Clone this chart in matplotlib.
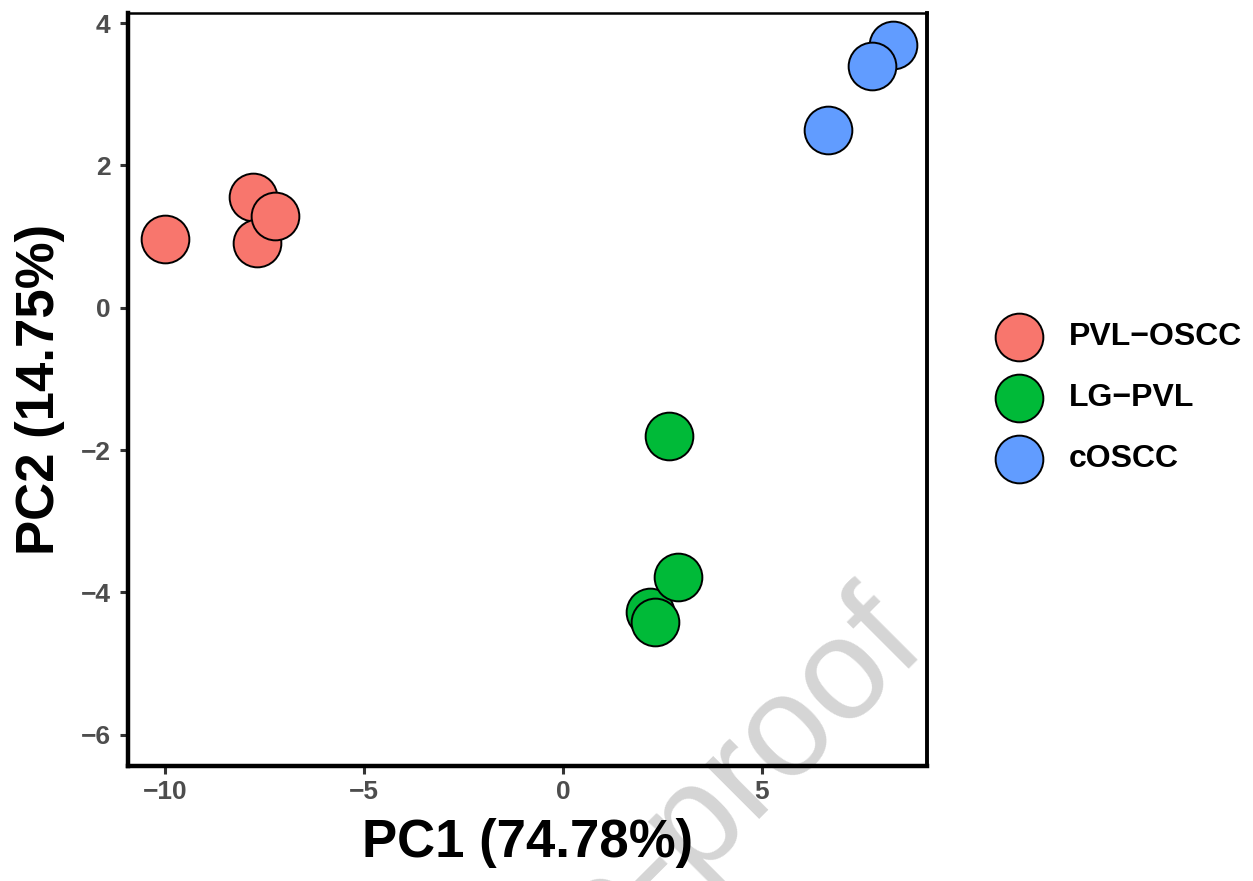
import matplotlib
matplotlib.use("Agg")
import matplotlib.pyplot as plt

# PCA scores
groups = ["PVL\u2212OSCC", "LG\u2212PVL", "cOSCC"]
colors = ["#F8766D", "#00BA38", "#619CFF"]

pvl_oscc_x = [-10.0, -7.79, -7.69, -7.24]
pvl_oscc_y = [0.97, 1.56, 0.91, 1.29]
lg_pvl_x = [2.66, 2.19, 2.31, 2.89]
lg_pvl_y = [-1.80, -4.27, -4.42, -3.79]
coscc_x = [6.66, 8.29, 7.76]
coscc_y = [2.50, 3.69, 3.40]

xticks = [-10, -5, 0, 5]
yticks = [-6, -4, -2, 0, 2, 4]

plt.rcParams['font.family'] = ['Liberation Sans', 'DejaVu Sans']

fig = plt.figure(figsize=(12.53, 8.81), dpi=100)
ax = fig.add_axes([0.1022, 0.1305, 0.6376, 0.8547])

data = [(pvl_oscc_x, pvl_oscc_y), (lg_pvl_x, lg_pvl_y), (coscc_x, coscc_y)]
for (xs, ys), lab, col in zip(data, groups, colors):
    ax.scatter(xs, ys, s=1180, c=col, edgecolors='black', linewidths=1.4,
               label=lab, zorder=3)

ax.set_xlim(-10.93, 9.15)
ax.set_ylim(-6.44, 4.14)
ax.set_xticks(xticks)
ax.set_yticks(yticks)
ax.set_xticklabels(["\u2212" + str(-t) if t < 0 else str(t) for t in xticks])
ax.set_yticklabels(["\u2212" + str(-t) if t < 0 else str(t) for t in yticks])

for lbl in ax.get_xticklabels() + ax.get_yticklabels():
    lbl.set_fontweight('bold')
    lbl.set_fontsize(19)
    lbl.set_color('#4D4D4D')
ax.tick_params(length=6, width=2.2, color='#333333')
ax.tick_params(axis='x', pad=4)
ax.tick_params(axis='y', pad=6.5)

ax.spines['left'].set_linewidth(3.2)
ax.spines['bottom'].set_linewidth(3.2)
ax.spines['right'].set_linewidth(2.8)
ax.spines['top'].set_linewidth(1.8)

ax.set_xlabel("PC1 (74.78%)", fontsize=38, fontweight='bold', labelpad=10)
ax.set_ylabel("PC2 (14.75%)", fontsize=38, fontweight='bold', labelpad=11)

leg = fig.legend(loc='center left', bbox_to_anchor=(0.775, 0.548),
                 frameon=False, prop={'weight': 'bold', 'size': 23},
                 labelspacing=0.97, handletextpad=0.55, borderpad=0)

# watermark, semi-transparent overlay on top of everything
fig.text(929 / 1253, 1 - 649 / 881, "Journal Pre-proof", fontsize=104,
         color='black', alpha=0.17, rotation=45, rotation_mode='anchor',
         ha='right', va='baseline', zorder=10)

fig.savefig("out.png", dpi=100)
